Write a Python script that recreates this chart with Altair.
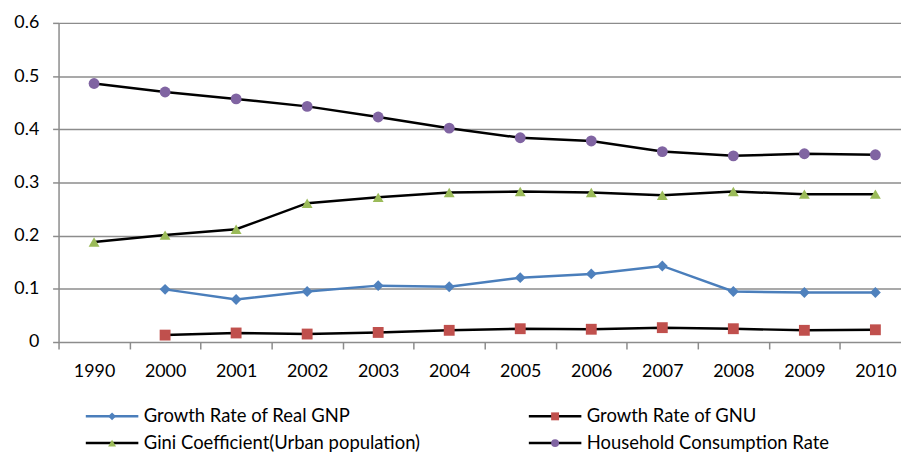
import altair as alt
import pandas as pd

years = ["1990", "2000", "2001", "2002", "2003", "2004", "2005", "2006", "2007", "2008", "2009", "2010"]
gnp = [None, 0.099, 0.080, 0.095, 0.106, 0.104, 0.121, 0.128, 0.143, 0.095, 0.093, 0.093]
gnu = [None, 0.013, 0.017, 0.015, 0.018, 0.022, 0.025, 0.024, 0.027, 0.025, 0.022, 0.023]
gini = [0.188, 0.201, 0.212, 0.261, 0.272, 0.281, 0.283, 0.281, 0.276, 0.283, 0.278, 0.278]
household = [0.486, 0.470, 0.457, 0.443, 0.423, 0.402, 0.384, 0.378, 0.358, 0.350, 0.354, 0.352]

series_names = [
    "Growth Rate of Real GNP",
    "Growth Rate of GNU",
    "Gini Coefficient(Urban population)",
    "Household Consumption Rate",
]
series_values = [gnp, gnu, gini, household]
line_colors = ["#4a7ebb", "#000000", "#000000", "#000000"]
marker_colors = ["#4f81bd", "#c0504d", "#9bbb59", "#8064a2"]
marker_shapes = ["diamond", "square", "triangle-up", "circle"]
legend_col = [0, 1, 0, 1]
legend_row = [0, 0, 1, 1]
y_ticks = [0, 0.1, 0.2, 0.3, 0.4, 0.5, 0.6]

FONT = "Lato"
GRID = "#8c8c8c"

rows = []
for name, vals in zip(series_names, series_values):
    for yr, v in zip(years, vals):
        if v is not None:
            rows.append({"year": yr, "value": v, "series": name})
df = pd.DataFrame(rows)

leg = pd.DataFrame({"series": series_names, "col": legend_col, "row": legend_row})

stroke_scale = alt.Scale(domain=series_names, range=line_colors)
fill_scale = alt.Scale(domain=series_names, range=marker_colors)
shape_scale = alt.Scale(domain=series_names, range=marker_shapes)

x_enc = alt.X(
    "year:N",
    sort=years,
    scale=alt.Scale(type="band", domain=years, range=[0, 860], paddingInner=0, paddingOuter=0),
    axis=alt.Axis(
        title=None, labelAngle=0, tickBand="extent", domain=False, grid=False,
        tickColor=GRID, tickWidth=1.5, tickSize=7, labelPadding=14,
        labelFont=FONT, labelFontSize=18, labelColor="#000000",
    ),
)
y_enc = alt.Y(
    "value:Q",
    scale=alt.Scale(domain=[0, 0.6], nice=False),
    axis=alt.Axis(
        title=None, values=y_ticks, format=".1~f", grid=True, gridColor=GRID, gridWidth=1.5,
        domainColor=GRID, domainWidth=1.5, tickColor=GRID, tickWidth=1.5, tickSize=6,
        labelPadding=14, labelFont=FONT, labelFontSize=18, labelColor="#000000",
    ),
)

base = alt.Chart(df)
lines = base.mark_line(strokeWidth=2.5).encode(
    x=x_enc, y=y_enc,
    stroke=alt.Stroke("series:N", scale=stroke_scale, legend=None),
    detail="series:N",
)
points = base.mark_point(filled=True, opacity=1, size=120, strokeWidth=0).encode(
    x=x_enc, y=y_enc,
    fill=alt.Fill("series:N", scale=fill_scale, legend=None),
    shape=alt.Shape("series:N", scale=shape_scale, legend=None),
)
main = alt.layer(lines, points)

lx = alt.X("col:Q", scale=alt.Scale(domain=[0, 1], range=[54, 501]), axis=None)
ly = alt.Y("row:Q", scale=alt.Scale(domain=[0, 1], range=[397, 424]), axis=None)
lbase = alt.Chart(leg)
glyph = lbase.mark_point(shape="M-1,0L1,0", filled=False, size=2809, strokeWidth=2.5, opacity=1).encode(
    x=lx, y=ly, stroke=alt.Stroke("series:N", scale=stroke_scale, legend=None)
)
lmark = lbase.mark_point(filled=True, opacity=1, size=64, strokeWidth=0).encode(
    x=lx, y=ly,
    fill=alt.Fill("series:N", scale=fill_scale, legend=None),
    shape=alt.Shape("series:N", scale=shape_scale, legend=None),
)
ltext = lbase.mark_text(align="left", baseline="middle", dx=32, font=FONT, fontSize=18.6, color="#000000").encode(
    x=lx, y=ly, text="series:N"
)
legend = alt.layer(glyph, lmark, ltext)

chart = alt.layer(main, legend).resolve_scale(x="independent", y="independent").properties(
    width=850,
    height=322,
    autosize=alt.AutoSizeParams(type="none"),
    padding={"left": 51, "top": 13, "right": 0, "bottom": 114},
).configure_view(stroke=None)

chart.save("out.html", embed_options={"renderer": "svg", "actions": False})
